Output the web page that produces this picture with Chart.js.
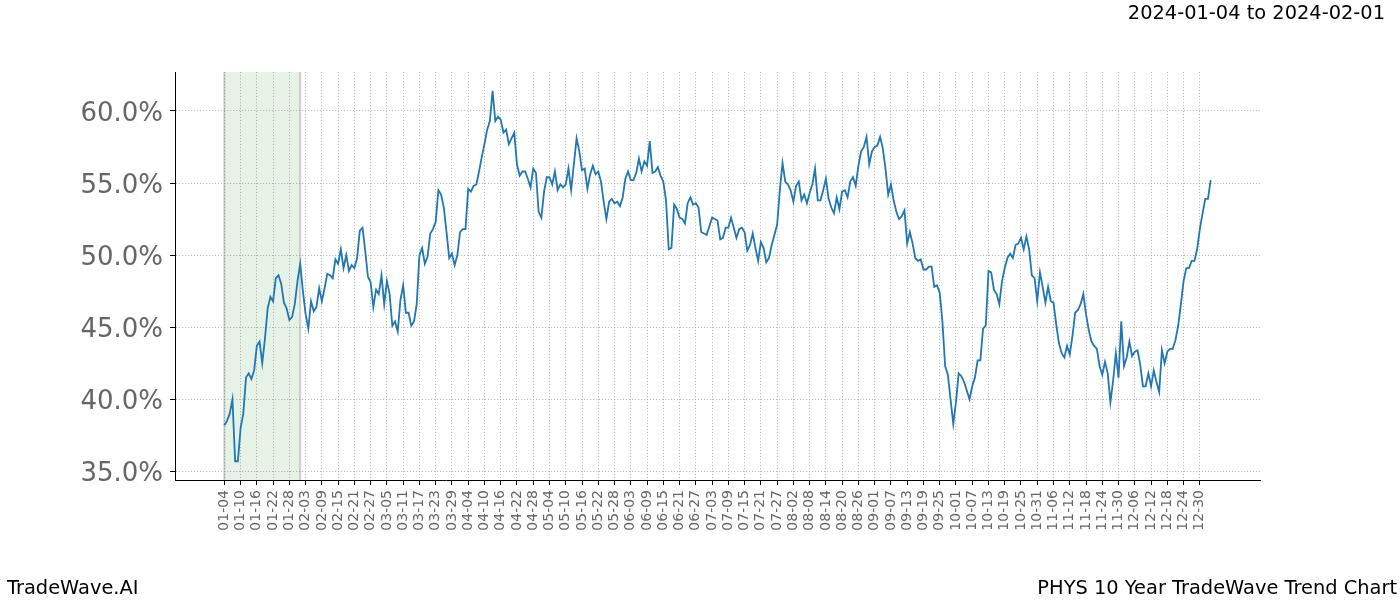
<!DOCTYPE html>
<html>
<head>
<meta charset="utf-8">
<title>PHYS 10 Year TradeWave Trend Chart</title>
<script src="https://cdn.jsdelivr.net/npm/chart.js@4.4.1/dist/chart.umd.min.js"></script>
<style>
  html, body { margin: 0; padding: 0; background: #fff; }
  #wrap { width: 1400px; height: 600px; }
</style>
</head>
<body>
<div id="wrap"><canvas id="trendChart" width="1400" height="600"></canvas></div>
<script>
// ---- DATA ----
const tickLabels = [
  '01-04','01-10','01-16','01-22','01-28','02-03','02-09','02-15','02-21','02-27',
  '03-05','03-11','03-17','03-23','03-29','04-04','04-10','04-16','04-22','04-28',
  '05-04','05-10','05-16','05-22','05-28','06-03','06-09','06-15','06-21','06-27',
  '07-03','07-09','07-15','07-21','07-27','08-02','08-08','08-14','08-20','08-26',
  '09-01','09-07','09-13','09-19','09-25','10-01','10-07','10-13','10-19','10-25',
  '10-31','11-06','11-12','11-18','11-24','11-30','12-06','12-12','12-18','12-24',
  '12-30'
];
const tickStepDays = 6;

// one value per calendar day, starting 01-04
const trendValues = [
  38.2, 38.5, 39.0, 40.0, 35.7, 35.7, 38.0, 39.0, 41.5, 41.8,
  41.4, 42.0, 43.7, 44.0, 42.5, 44.2, 46.3, 47.1, 46.8, 48.4,
  48.6, 48.0, 46.7, 46.3, 45.5, 45.7, 46.6, 48.2, 49.4, 47.5,
  45.9, 44.9, 46.8, 46.1, 46.4, 47.7, 46.8, 47.7, 48.7, 48.6,
  48.4, 49.7, 49.4, 50.4, 49.1, 50.0, 48.9, 49.3, 49.1, 49.8,
  51.7, 51.9, 50.3, 48.5, 48.1, 46.4, 47.6, 47.3, 48.6, 46.6,
  48.2, 47.3, 45.1, 45.4, 44.7, 46.9, 47.9, 46.0, 46.0, 45.1,
  45.4, 46.6, 50.0, 50.5, 49.4, 49.9, 51.5, 51.8, 52.3, 54.5,
  54.2, 53.3, 51.6, 49.8, 50.1, 49.3, 50.0, 51.6, 51.8, 51.8,
  54.6, 54.4, 54.8, 54.9, 55.8, 56.8, 57.7, 58.7, 59.3, 61.4,
  59.3, 59.6, 59.4, 58.5, 58.7, 57.7, 58.1, 58.5, 56.3, 55.5,
  55.8, 55.8, 55.3, 54.7, 56.0, 55.7, 53.0, 52.6, 54.4, 55.4,
  55.4, 54.9, 55.8, 54.5, 54.9, 54.7, 54.9, 56.0, 54.5, 56.3,
  58.1, 57.2, 55.9, 56.0, 54.6, 55.6, 56.2, 55.6, 55.8, 55.1,
  53.7, 52.5, 53.7, 53.9, 53.6, 53.7, 53.4, 54.0, 55.3, 55.8,
  55.2, 55.2, 55.7, 56.7, 55.8, 56.5, 56.2, 57.9, 55.7, 55.8,
  56.1, 55.5, 55.1, 53.8, 50.4, 50.5, 53.5, 53.2, 52.6, 52.5,
  52.2, 53.6, 54.0, 53.5, 53.6, 53.3, 51.6, 51.5, 51.4, 52.0,
  52.6, 52.5, 52.4, 51.1, 51.2, 51.9, 51.9, 52.6, 51.9, 51.2,
  51.8, 51.9, 51.6, 50.3, 50.7, 51.5, 50.5, 49.6, 50.9, 50.5,
  49.5, 49.8, 50.7, 51.4, 52.1, 54.5, 56.4, 55.1, 54.9, 54.5,
  53.7, 54.8, 55.1, 53.8, 54.2, 53.6, 54.3, 54.9, 56.0, 53.8,
  53.8, 54.5, 55.3, 53.9, 53.3, 52.9, 54.0, 53.2, 54.4, 54.5,
  54.0, 55.1, 55.4, 54.8, 56.2, 57.2, 57.5, 58.2, 56.3, 57.2,
  57.5, 57.6, 58.2, 57.4, 56.0, 54.2, 54.9, 53.8, 53.0, 52.5,
  52.7, 53.1, 50.8, 51.6, 50.8, 49.8, 49.6, 49.7, 49.0, 49.0,
  49.2, 49.2, 47.8, 47.9, 47.4, 45.4, 42.3, 41.7, 40.0, 38.3,
  39.8, 41.8, 41.6, 41.2, 40.6, 40.0, 40.9, 41.5, 42.7, 42.7,
  44.9, 45.1, 48.9, 48.8, 47.6, 47.3, 46.6, 48.2, 49.1, 49.8,
  50.1, 49.8, 50.7, 50.8, 51.2, 50.4, 51.3, 50.4, 48.6, 48.4,
  46.8, 48.8, 47.8, 46.7, 47.8, 46.8, 46.7, 45.2, 43.9, 43.2,
  42.9, 43.7, 43.1, 44.4, 46.0, 46.2, 46.6, 47.3, 45.9, 44.8,
  44.0, 43.7, 43.5, 42.3, 41.7, 42.6, 41.8, 39.8, 41.3, 43.2,
  41.5, 45.4, 42.3, 42.9, 44.0, 43.0, 43.3, 43.4, 42.4, 40.9,
  40.9, 41.8, 40.9, 42.0, 41.2, 40.5, 43.4, 42.5, 43.3, 43.5,
  43.5, 44.1, 45.1, 46.6, 48.2, 49.1, 49.1, 49.6, 49.6, 50.4,
  51.8, 52.9, 53.9, 53.9, 55.2
];

const yTickValues = [35, 40, 45, 50, 55, 60];
const highlightDays = [0, 28];   // 01-04 .. 02-01
const rangeTitle = '2024-01-04 to 2024-02-01';
const brandText = 'TradeWave.AI';
const chartTitle = 'PHYS 10 Year TradeWave Trend Chart';

// ---- CHART ----
Chart.defaults.font.family = "'DejaVu Sans', sans-serif";

const LINE_COLOR = '#1f77b4';
const GRID_COLOR = '#b0b0b0';
const TICK_TEXT = '#666666';

const lastDay = trendValues.length - 1;
const xMargin = lastDay * 0.05;

const overlayPlugin = {
  id: 'overlay',
  beforeDatasetsDraw(chart) {
    const { ctx, chartArea, scales } = chart;
    const x0 = scales.x.getPixelForValue(highlightDays[0]);
    const x1 = scales.x.getPixelForValue(highlightDays[1]);
    ctx.save();
    ctx.fillStyle = 'rgba(0,128,0,0.1)';
    ctx.fillRect(x0, chartArea.top, x1 - x0, chartArea.bottom - chartArea.top);
    ctx.strokeStyle = 'rgba(110,110,110,0.3)';
    ctx.lineWidth = 2;
    ctx.beginPath();
    ctx.moveTo(x0, chartArea.top); ctx.lineTo(x0, chartArea.bottom);
    ctx.moveTo(x1, chartArea.top); ctx.lineTo(x1, chartArea.bottom);
    ctx.stroke();
    ctx.restore();
  },
  afterDraw(chart) {
    const { ctx } = chart;
    ctx.save();
    ctx.fillStyle = '#000';
    ctx.font = "19.4px 'DejaVu Sans', sans-serif";
    ctx.textBaseline = 'alphabetic';
    ctx.textAlign = 'right';
    ctx.fillText(rangeTitle, 1385, 19);
    ctx.fillText(chartTitle, 1397, 594);
    ctx.textAlign = 'left';
    ctx.fillText(brandText, 7, 594);
    ctx.restore();
  }
};

new Chart(document.getElementById('trendChart'), {
  type: 'line',
  data: {
    datasets: [{
      data: trendValues.map((v, i) => ({ x: i, y: v })),
      borderColor: LINE_COLOR,
      borderWidth: 1.8,
      pointRadius: 0,
      tension: 0,
      fill: false,
    }]
  },
  options: {
    responsive: false,
    animation: false,
    devicePixelRatio: 1,
    layout: { padding: { left: 0, right: 140, top: 72, bottom: 0 } },
    plugins: {
      legend: { display: false },
      tooltip: { enabled: false },
    },
    scales: {
      x: {
        type: 'linear',
        min: -xMargin,
        max: lastDay + xMargin,
        afterBuildTicks: scale => {
          scale.ticks = tickLabels.map((_, i) => ({ value: i * tickStepDays }));
        },
        afterFit: scale => { scale.height = 120; },
        grid: {
          color: GRID_COLOR,
          lineWidth: 0.8,
          drawTicks: true,
          tickLength: 5,
          tickColor: '#000',
          tickWidth: 1,
        },
        border: { display: true, color: '#000', width: 1, dash: [1.2, 1.8] },
        ticks: {
          autoSkip: false,
          minRotation: 90,
          maxRotation: 90,
          padding: 5,
          color: TICK_TEXT,
          font: { size: 14 },
          callback: v => tickLabels[Math.round(v / tickStepDays)] || '',
        },
      },
      y: {
        min: 34.4,
        max: 62.7,
        afterBuildTicks: scale => {
          scale.ticks = yTickValues.map(v => ({ value: v }));
        },
        afterFit: scale => { scale.width = 175; },
        grid: {
          color: GRID_COLOR,
          lineWidth: 0.8,
          drawTicks: true,
          tickLength: 5,
          tickColor: '#000',
          tickWidth: 1,
        },
        border: { display: true, color: '#000', width: 1, dash: [1.2, 1.8] },
        ticks: {
          padding: 7,
          labelOffset: 3,
          color: TICK_TEXT,
          font: { size: 26 },
          callback: v => v.toFixed(1) + '%',
        },
      }
    }
  },
  plugins: [overlayPlugin]
});
</script>
</body>
</html>
